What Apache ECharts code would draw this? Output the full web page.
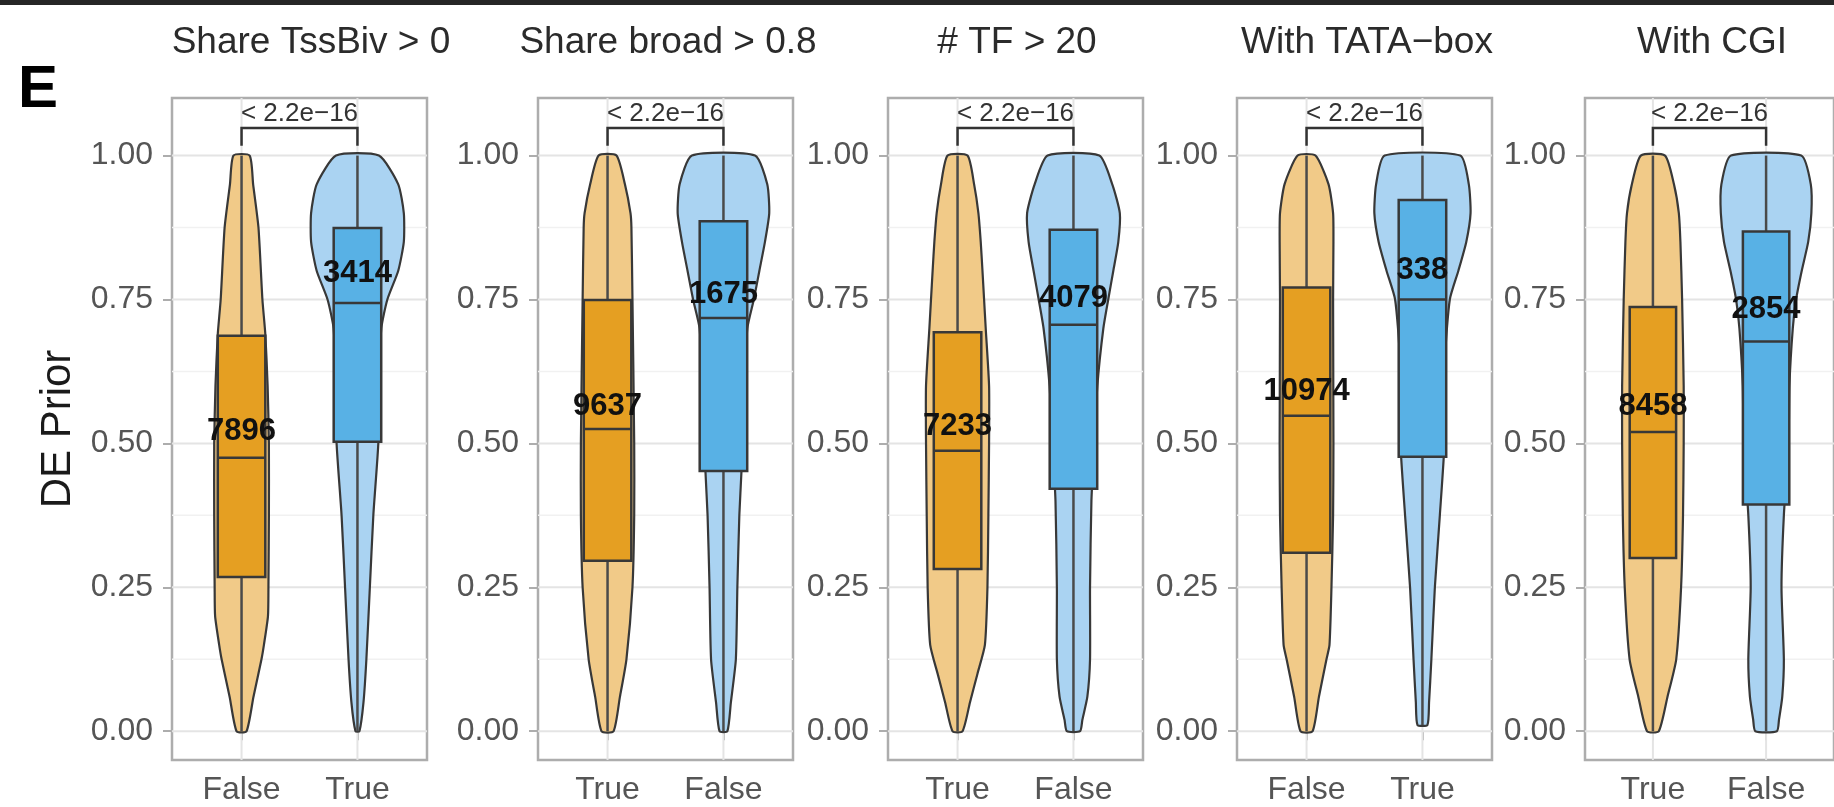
<!DOCTYPE html>
<html>
<head>
<meta charset="utf-8">
<title>DE Prior by promoter features</title>
<script src="https://cdn.jsdelivr.net/npm/echarts@6/dist/echarts.min.js"></script>
<style>
  html, body { margin: 0; padding: 0; background: #fff; }
  #chart { width: 1834px; height: 807px; }
</style>
</head>
<body>
<div id="chart"></div>
<script>
// facet titles and the order of the two groups on every x axis
const panelTitles = ['Share TssBiv > 0', 'Share broad > 0.8', '# TF > 20', 'With TATA\u2212box', 'With CGI']
const groupLabels = [
  ['False', 'True'],
  ['True', 'False'],
  ['True', 'False'],
  ['False', 'True'],
  ['True', 'False']
]
// number of genes per group and the height where the count is printed
const counts = [[7896, 3414], [9637, 1675], [7233, 4079], [10974, 338], [8458, 2854]]
const countY = [[0.52, 0.796], [0.565, 0.758], [0.53, 0.752], [0.59, 0.801], [0.565, 0.732]]
// box stats: [lower whisker, q1, median, q3, upper whisker]
const boxStats = [
  [[0, 0.268, 0.475, 0.687, 1], [0, 0.503, 0.744, 0.874, 1]],
  [[0, 0.296, 0.525, 0.749, 1], [0, 0.452, 0.718, 0.886, 1]],
  [[0, 0.282, 0.487, 0.693, 1], [0, 0.421, 0.706, 0.871, 1]],
  [[0, 0.31, 0.548, 0.771, 1], [0.011, 0.477, 0.75, 0.923, 1]],
  [[0, 0.301, 0.52, 0.737, 1], [0, 0.394, 0.677, 0.868, 1]]
]
const pValues = ['< 2.2e\u221216', '< 2.2e\u221216', '< 2.2e\u221216', '< 2.2e\u221216', '< 2.2e\u221216']
// violin outlines: [DE prior, half width in x units], read top to bottom
const violinOrange = [
  [[1, 0.07], [0.95, 0.1], [0.875, 0.146], [0.75, 0.18], [0.69, 0.205], [0.6, 0.225], [0.5, 0.236], [0.375, 0.236], [0.25, 0.232], [0.2, 0.228], [0.15, 0.193], [0.125, 0.172], [0.06, 0.103], [0, 0.043]],
  [[1, 0.077], [0.95, 0.15], [0.9, 0.198], [0.875, 0.206], [0.75, 0.215], [0.5, 0.23], [0.375, 0.23], [0.25, 0.215], [0.125, 0.163], [0.06, 0.107], [0, 0.052]],
  [[1, 0.086], [0.95, 0.143], [0.9, 0.18], [0.85, 0.2], [0.8, 0.215], [0.75, 0.229], [0.7, 0.243], [0.6, 0.272], [0.5, 0.272], [0.375, 0.266], [0.25, 0.258], [0.15, 0.236], [0.1, 0.172], [0.05, 0.107], [0, 0.043]],
  [[1, 0.077], [0.95, 0.19], [0.9, 0.229], [0.85, 0.232], [0.75, 0.229], [0.5, 0.232], [0.375, 0.229], [0.25, 0.215], [0.15, 0.198], [0.125, 0.172], [0.06, 0.107], [0, 0.052]],
  [[1, 0.107], [0.95, 0.186], [0.9, 0.229], [0.85, 0.243], [0.75, 0.258], [0.6, 0.272], [0.5, 0.272], [0.375, 0.266], [0.25, 0.249], [0.125, 0.206], [0.06, 0.129], [0, 0.052]]
]
const violinBlue = [
  [[1, 0.185], [0.95, 0.352], [0.9, 0.4], [0.85, 0.4], [0.8, 0.352], [0.75, 0.258], [0.7, 0.206], [0.6, 0.185], [0.5, 0.18], [0.375, 0.137], [0.25, 0.107], [0.125, 0.077], [0.05, 0.052], [0, 0.017]],
  [[1, 0.272], [0.95, 0.378], [0.9, 0.395], [0.85, 0.358], [0.8, 0.31], [0.75, 0.262], [0.7, 0.206], [0.6, 0.18], [0.45, 0.155], [0.375, 0.137], [0.25, 0.12], [0.125, 0.107], [0.05, 0.064], [0, 0.034]],
  [[1, 0.223], [0.95, 0.335], [0.9, 0.4], [0.85, 0.387], [0.8, 0.344], [0.75, 0.3], [0.7, 0.258], [0.6, 0.206], [0.5, 0.18], [0.4, 0.155], [0.25, 0.143], [0.125, 0.143], [0.06, 0.12], [0.02, 0.077], [0, 0.057]],
  [[1, 0.326], [0.95, 0.4], [0.9, 0.415], [0.85, 0.378], [0.8, 0.31], [0.75, 0.236], [0.65, 0.195], [0.5, 0.19], [0.375, 0.15], [0.25, 0.107], [0.125, 0.077], [0.05, 0.057], [0.011, 0.043]],
  [[1, 0.31], [0.95, 0.395], [0.9, 0.4], [0.85, 0.372], [0.8, 0.315], [0.75, 0.265], [0.7, 0.236], [0.6, 0.206], [0.5, 0.198], [0.375, 0.157], [0.25, 0.136], [0.125, 0.157], [0.06, 0.143], [0.02, 0.114], [0, 0.095]]
]
const yTicks = [0, 0.25, 0.5, 0.75, 1]
const yMinor = [0.125, 0.375, 0.625, 0.875]

// layout (pixels)
const panelLeft = [172, 538, 888, 1237, 1585]
const titleX = [311, 668, 1017, 1367, 1712]
const PANEL_W = 255
const PANEL_TOP = 98
const PANEL_H = 662
const X_MIN = 0.4
const X_MAX = 2.6
const BOX_HALF = 0.205
// bracket for the p-value: leg end, bar, label
const BRACKET_LEG = 1.017
const BRACKET_BAR = 1.048
const BRACKET_TEXT = 1.073

const FONT = "'Liberation Sans', Arial, sans-serif"
const violinFill = ['#F1CA88', '#AAD3F2']
const boxFill = ['#E59F22', '#58B1E5']
const OUTLINE = '#383838'
const WHISKER = '#4a4a4a'
const BORDER = '#ADADAD'

const chart = echarts.init(document.getElementById('chart'), null, { renderer: 'canvas' })

const grids = []
const xAxes = []
const yAxes = []
const series = []

panelTitles.forEach((title, p) => {
  grids.push({
    left: panelLeft[p],
    top: PANEL_TOP,
    width: PANEL_W,
    height: PANEL_H,
    show: true,
    borderColor: BORDER,
    borderWidth: 2.5,
    backgroundColor: 'transparent'
  })
  xAxes.push({
    gridIndex: p,
    type: 'value',
    min: X_MIN,
    max: X_MAX,
    axisLine: { show: false },
    splitLine: { show: false },
    axisTick: { show: true, customValues: [1, 2], length: 9, lineStyle: { color: BORDER, width: 2 } },
    axisLabel: {
      customValues: [1, 2],
      formatter: v => groupLabels[p][Math.round(v) - 1],
      margin: 14,
      fontSize: 32,
      fontFamily: FONT,
      color: '#555'
    }
  })
  yAxes.push({
    gridIndex: p,
    type: 'value',
    min: -0.05,
    max: 1.1,
    name: p === 0 ? 'DE Prior' : '',
    nameLocation: 'middle',
    nameRotate: 90,
    nameGap: 93,
    nameTextStyle: { fontSize: 42, fontFamily: FONT, color: '#1a1a1a' },
    axisLine: { show: false },
    splitLine: { show: false },
    axisTick: { show: true, customValues: yTicks, length: 9, lineStyle: { color: BORDER, width: 2 } },
    axisLabel: {
      customValues: yTicks,
      formatter: v => v.toFixed(2),
      margin: 19,
      fontSize: 32,
      fontFamily: FONT,
      color: '#555'
    }
  })

  // background grid lines
  series.push({
    type: 'custom',
    xAxisIndex: p,
    yAxisIndex: p,
    silent: true,
    z: 1,
    data: yTicks.map(y => [y, 0]).concat(yMinor.map(y => [y, 1])),
    renderItem: (params, api) => {
      const y = api.value(0)
      const minor = api.value(1) === 1
      const a = api.coord([X_MIN, y])
      const b = api.coord([X_MAX, y])
      return {
        type: 'line',
        shape: { x1: a[0], y1: a[1], x2: b[0], y2: b[1] },
        style: { stroke: minor ? '#F1F1F1' : '#E4E4E4', lineWidth: minor ? 1.5 : 2 }
      }
    }
  })
  series.push({
    type: 'custom',
    xAxisIndex: p,
    yAxisIndex: p,
    silent: true,
    z: 1,
    data: [[1, 0], [2, 0]],
    renderItem: (params, api) => {
      const x = api.value(0)
      const a = api.coord([x, -0.05])
      const b = api.coord([x, 1.1])
      return {
        type: 'line',
        shape: { x1: a[0], y1: a[1], x2: b[0], y2: b[1] },
        style: { stroke: '#E4E4E4', lineWidth: 2 }
      }
    }
  })

  // violins
  series.push({
    type: 'custom',
    xAxisIndex: p,
    yAxisIndex: p,
    silent: true,
    z: 2,
    data: [[1, 0.5], [2, 0.5]],
    renderItem: (params, api) => {
      const g = params.dataIndex
      const pos = api.value(0)
      const prof = g === 0 ? violinOrange[p] : violinBlue[p]
      const right = prof.map(([y, w]) => api.coord([pos + w, y]))
      const left = prof.slice().reverse().map(([y, w]) => api.coord([pos - w, y]))
      return {
        type: 'polygon',
        shape: { points: right.concat(left), smooth: 0.2 },
        style: { fill: violinFill[g], stroke: OUTLINE, lineWidth: 2.2 }
      }
    }
  })

  // boxes with whiskers
  series.push({
    type: 'custom',
    xAxisIndex: p,
    yAxisIndex: p,
    silent: true,
    z: 3,
    data: [[1, 0.5], [2, 0.5]],
    renderItem: (params, api) => {
      const g = params.dataIndex
      const pos = api.value(0)
      const [lo, q1, med, q3, hi] = boxStats[p][g]
      const top = api.coord([pos, hi])
      const upper = api.coord([pos, q3])
      const lower = api.coord([pos, q1])
      const bottom = api.coord([pos, lo])
      const tl = api.coord([pos - BOX_HALF, q3])
      const br = api.coord([pos + BOX_HALF, q1])
      const mL = api.coord([pos - BOX_HALF, med])
      const mR = api.coord([pos + BOX_HALF, med])
      return {
        type: 'group',
        children: [
          { type: 'line', shape: { x1: top[0], y1: top[1], x2: upper[0], y2: upper[1] }, style: { stroke: WHISKER, lineWidth: 2.5 } },
          { type: 'line', shape: { x1: lower[0], y1: lower[1], x2: bottom[0], y2: bottom[1] }, style: { stroke: WHISKER, lineWidth: 2.5 } },
          { type: 'rect', shape: { x: tl[0], y: tl[1], width: br[0] - tl[0], height: br[1] - tl[1] }, style: { fill: boxFill[g], stroke: OUTLINE, lineWidth: 2.5 } },
          { type: 'line', shape: { x1: mL[0], y1: mL[1], x2: mR[0], y2: mR[1] }, style: { stroke: OUTLINE, lineWidth: 2.5 } }
        ]
      }
    }
  })

  // group sizes
  series.push({
    type: 'custom',
    xAxisIndex: p,
    yAxisIndex: p,
    silent: true,
    z: 4,
    data: [[1, countY[p][0], counts[p][0]], [2, countY[p][1], counts[p][1]]],
    renderItem: (params, api) => {
      const c = api.coord([api.value(0), api.value(1)])
      return {
        type: 'text',
        x: c[0],
        y: c[1],
        style: {
          text: String(api.value(2)),
          align: 'center',
          verticalAlign: 'middle',
          font: `bold 31px ${FONT}`,
          fill: '#111'
        }
      }
    }
  })

  // significance bracket
  series.push({
    type: 'custom',
    xAxisIndex: p,
    yAxisIndex: p,
    silent: true,
    z: 4,
    data: [[1.5, BRACKET_BAR]],
    renderItem: (params, api) => {
      const a = api.coord([1, BRACKET_LEG])
      const b = api.coord([1, BRACKET_BAR])
      const c = api.coord([2, BRACKET_BAR])
      const d = api.coord([2, BRACKET_LEG])
      const t = api.coord([1.5, BRACKET_TEXT])
      return {
        type: 'group',
        children: [
          { type: 'polyline', shape: { points: [a, b, c, d] }, style: { stroke: '#333', lineWidth: 2.5, fill: null } },
          { type: 'text', x: t[0], y: t[1], style: { text: pValues[p], align: 'center', verticalAlign: 'middle', font: `26px ${FONT}`, fill: '#333' } }
        ]
      }
    }
  })
})

const graphics = [
  { type: 'rect', shape: { x: 0, y: 0, width: 1834, height: 5 }, style: { fill: '#262626' } },
  { type: 'text', x: 38, y: 90, style: { text: 'E', font: `bold 60px ${FONT}`, fill: '#000', align: 'center', verticalAlign: 'middle' } }
]
panelTitles.forEach((title, p) => {
  graphics.push({
    type: 'text',
    x: titleX[p],
    y: 43,
    style: { text: title, font: `37px ${FONT}`, fill: '#2b2b2b', align: 'center', verticalAlign: 'middle' }
  })
})

chart.setOption({
  animation: false,
  backgroundColor: '#fff',
  grid: grids,
  xAxis: xAxes,
  yAxis: yAxes,
  series: series,
  graphic: graphics
})
</script>
</body>
</html>
